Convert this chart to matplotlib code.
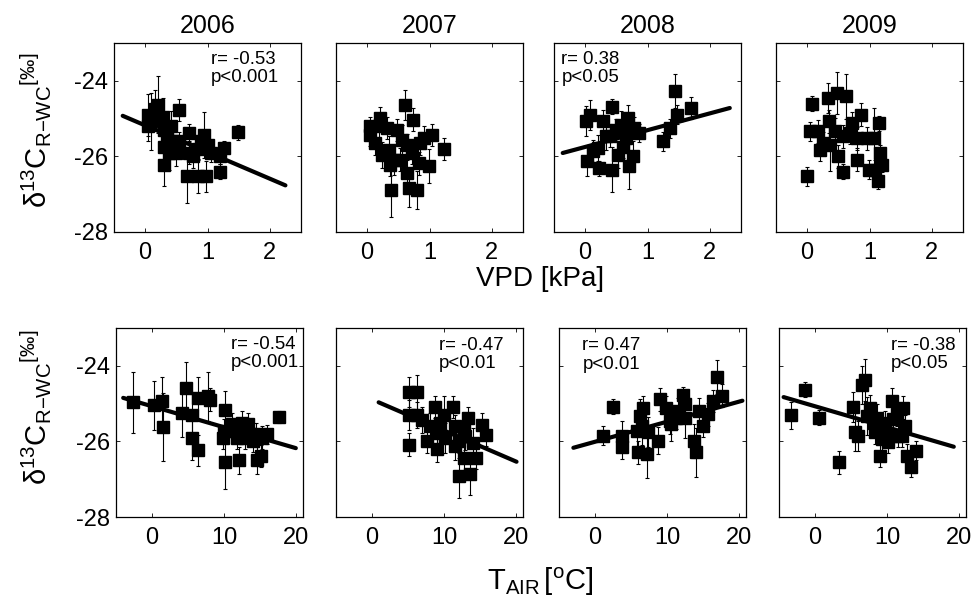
import matplotlib
matplotlib.use("Agg")
import matplotlib.pyplot as plt
import numpy as np

plt.rcParams['font.family'] = ['Liberation Sans', 'DejaVu Sans']
plt.rcParams['mathtext.fontset'] = 'custom'
plt.rcParams['mathtext.rm'] = 'Liberation Sans'
plt.rcParams['mathtext.it'] = 'Liberation Sans:italic'
plt.rcParams['axes.unicode_minus'] = False

years = ['2006', '2007', '2008', '2009']

# ---- VPD panels (top row) ----
vpd06_x = [0.05, 0.05, 0.10, 0.20, 0.15, 0.28, 0.30, 0.35, 0.31, 0.31, 0.38, 0.42, 0.45, 0.50, 0.55, 0.55,
           0.70, 0.70, 0.76, 0.67, 0.84, 0.98, 0.85, 0.90, 0.95, 1.00, 1.05, 1.20, 1.20, 1.26, 1.49]
vpd06_y = [-24.90, -25.20, -25.07, -24.63, -24.75, -24.95, -25.30, -25.50, -25.75, -26.22, -25.90, -25.20,
           -25.60, -25.90, -24.77, -25.60, -25.38, -25.90, -26.00, -26.53, -26.53, -26.53, -25.80, -25.60,
           -25.43, -25.70, -25.90, -26.00, -26.41, -25.78, -25.36]
vpd06_e = [0.55, 0.40, 0.75, 0.75, 0.50, 0.50, 0.40, 0.35, 0.45, 0.55, 0.45, 0.40, 0.40, 0.35, 0.30, 0.25,
           0.25, 0.30, 0.30, 0.70, 0.45, 0.40, 0.30, 0.30, 0.60, 0.30, 0.25, 0.20, 0.20, 0.20, 0.20]

vpd07_x = [0.05, 0.05, 0.13, 0.19, 0.21, 0.24, 0.32, 0.35, 0.37, 0.39, 0.43, 0.48, 0.53, 0.56, 0.60, 0.64,
           0.64, 0.67, 0.72, 0.74, 0.80, 0.83, 0.85, 0.91, 0.99, 1.04, 1.24]
vpd07_y = [-25.20, -25.43, -25.65, -25.20, -24.99, -25.96, -25.25, -25.82, -26.22, -26.90, -26.09, -25.30,
           -26.09, -25.56, -24.65, -25.70, -26.44, -26.84, -25.90, -25.03, -26.88, -26.18, -25.65, -25.50,
           -26.26, -25.43, -25.80]
vpd07_e = [0.25, 0.30, 0.30, 0.35, 0.30, 0.35, 0.30, 0.35, 0.30, 0.70, 0.40, 0.30, 0.30, 0.40, 0.40, 0.30,
           0.35, 0.50, 0.30, 0.30, 0.50, 0.30, 0.30, 0.30, 0.45, 0.30, 0.30]

vpd08_x = [0.02, 0.07, 0.03, 0.12, 0.20, 0.22, 0.28, 0.34, 0.40, 0.43, 0.43, 0.50, 0.53, 0.58, 0.61, 0.66,
           0.69, 0.71, 0.77, 0.79, 0.87, 1.25, 1.36, 1.44, 1.47, 1.69]
vpd08_y = [-25.07, -24.90, -26.13, -25.86, -25.78, -26.31, -25.07, -25.47, -25.45, -24.68, -26.35, -25.30,
           -25.96, -25.16, -25.74, -25.50, -24.99, -26.26, -25.99, -25.25, -25.38, -25.60, -25.25, -24.26,
           -24.90, -24.72]
vpd08_e = [0.40, 0.40, 0.40, 0.30, 0.35, 0.20, 0.30, 0.35, 0.30, 0.20, 0.60, 0.30, 0.35, 0.35, 0.30, 0.30,
           0.35, 0.60, 0.40, 0.30, 0.25, 0.25, 0.25, 0.45, 0.25, 0.30]

vpd09_x = [0.00, 0.04, 0.08, 0.18, 0.20, 0.26, 0.33, 0.35, 0.37, 0.45, 0.48, 0.50, 0.58, 0.58, 0.62, 0.69,
           0.72, 0.80, 0.80, 0.87, 0.96, 0.99, 1.07, 1.09, 1.13, 1.16, 1.17, 1.20]
vpd09_y = [-26.53, -25.34, -24.61, -25.34, -25.82, -25.65, -24.46, -25.07, -25.69, -25.34, -24.32, -26.00,
           -25.47, -26.40, -24.41, -25.38, -25.12, -25.52, -26.09, -24.90, -25.52, -26.35, -25.52, -26.35,
           -26.66, -25.12, -25.91, -26.22]
vpd09_e = [0.25, 0.25, 0.20, 0.30, 0.30, 0.30, 0.40, 0.30, 0.70, 0.35, 0.55, 0.30, 0.30, 0.20, 0.60, 0.30,
           0.30, 0.30, 0.30, 0.30, 0.30, 0.25, 0.80, 0.25, 0.20, 0.20, 0.20, 0.20]

# ---- Air temperature panels (bottom row) ----
t06_x = [-2.6, 0.24, 1.4, 1.6, 4.2, 4.7, 5.6, 5.6, 6.35, 6.35, 7.8, 8.1, 10.2, 10.0, 9.9, 10.1, 11.1, 11.5,
         11.8, 12.1, 12.5, 12.9, 13.4, 13.6, 14.1, 14.4, 14.6, 15.1, 15.3, 16.0, 17.6]
t06_y = [-24.97, -25.05, -24.94, -25.63, -25.24, -24.59, -25.29, -25.90, -26.24, -24.85, -24.81, -24.90,
         -25.16, -25.72, -25.90, -26.55, -25.55, -25.72, -25.90, -26.50, -25.50, -25.90, -25.55, -25.81,
         -25.98, -25.81, -26.50, -26.39, -25.90, -25.81, -25.35]
t06_e = [0.80, 0.65, 0.65, 0.90, 0.65, 0.70, 0.55, 0.60, 0.40, 0.55, 0.65, 0.30, 0.50, 0.30, 0.30, 0.70,
         0.30, 0.30, 0.30, 0.35, 0.30, 0.30, 0.30, 0.30, 0.30, 0.30, 0.35, 0.30, 0.30, 0.25, 0.15]

t07_x = [5.1, 6.2, 5.1, 5.1, 6.2, 7.0, 7.7, 8.1, 8.7, 9.0, 9.1, 9.5, 10.0, 10.2, 11.3, 11.5, 11.6, 12.1,
         12.1, 12.8, 12.8, 13.0, 13.3, 13.7, 14.0, 14.4, 15.3, 15.8]
t07_y = [-24.70, -24.70, -25.30, -26.09, -25.30, -25.43, -26.00, -25.60, -25.09, -26.20, -25.78, -25.52,
         -25.30, -25.90, -25.09, -26.13, -25.60, -26.00, -26.91, -25.65, -26.43, -25.87, -25.39, -26.87,
         -26.04, -26.43, -25.56, -25.82]
t07_e = [0.40, 0.45, 0.40, 0.30, 0.35, 0.35, 0.30, 0.35, 0.30, 0.35, 0.40, 0.35, 0.50, 0.40, 0.30, 0.35,
         0.30, 0.45, 0.60, 0.30, 0.40, 0.35, 0.30, 0.55, 0.40, 0.30, 0.30, 0.30]

t08_x = [1.16, 2.5, 3.7, 3.7, 5.8, 6.0, 6.25, 6.5, 6.7, 7.2, 7.4, 8.8, 9.0, 9.9, 10.4, 10.6, 11.3, 11.6,
         12.3, 12.5, 12.5, 13.75, 14.0, 14.4, 15.0, 15.7, 16.4, 17.0, 17.6]
t08_y = [-25.85, -25.08, -25.85, -26.16, -25.72, -26.29, -25.33, -25.59, -25.11, -26.33, -25.76, -25.98,
         -24.89, -25.11, -25.46, -25.55, -25.37, -25.20, -24.76, -25.02, -25.37, -26.00, -26.29, -25.20,
         -25.59, -25.28, -24.93, -24.30, -24.79]
t08_e = [0.25, 0.20, 0.40, 0.30, 0.40, 0.30, 0.45, 0.50, 0.30, 0.65, 0.40, 0.35, 0.30, 0.30, 0.35, 0.45,
         0.30, 0.35, 0.20, 0.30, 0.55, 0.45, 0.65, 0.35, 0.30, 0.30, 0.30, 0.45, 0.30]

t09_x = [-3.4, -1.4, 0.5, 3.4, 5.3, 5.55, 6.0, 6.55, 7.0, 7.25, 7.7, 8.2, 8.4, 8.6, 9.1, 9.3, 9.3, 9.8,
         10.1, 10.5, 10.7, 10.9, 11.4, 11.6, 12.1, 12.3, 12.5, 12.75, 13.4, 14.1]
t09_y = [-25.31, -24.63, -25.37, -26.55, -25.09, -25.76, -25.85, -24.50, -24.38, -25.33, -25.11, -25.50,
         -25.76, -25.37, -26.38, -25.67, -25.94, -25.50, -26.02, -25.85, -24.93, -25.41, -25.28, -25.85,
         -25.85, -25.11, -25.59, -26.38, -26.69, -26.25]
t09_e = [0.35, 0.20, 0.20, 0.30, 0.40, 0.50, 0.40, 0.50, 0.55, 0.50, 0.35, 0.35, 0.30, 0.35, 0.30, 0.30,
         0.30, 0.30, 0.30, 0.30, 0.35, 0.35, 0.30, 0.30, 0.30, 0.30, 0.30, 0.30, 0.25, 0.25]

# regression lines: (x_start, x_end, intercept, slope) or None
vpd_fit = [(-0.36, 2.25, -25.18, -0.705), None, (-0.36, 2.32, -25.75, 0.444), None]
t_fit = [(-4.0, 20.0, -25.07, -0.0554), (0.93, 20.1, -24.89, -0.082),
         (-3.0, 20.5, -26.01, 0.053), (-4.36, 19.3, -25.07, -0.0555)]

vpd_stats = ['r= -0.53\np<0.001', None, 'r= 0.38\np<0.05', None]
t_stats = ['r= -0.54\np<0.001', 'r= -0.47\np<0.01', 'r= 0.47\np<0.01', 'r= -0.38\np<0.05']
vpd_stat_pos = [(0.52, 0.96), None, (0.04, 0.96), None]
t_stat_pos = [(0.615, 0.96), (0.55, 0.955), (0.125, 0.95), (0.60, 0.955)]

top_data = [(vpd06_x, vpd06_y, vpd06_e), (vpd07_x, vpd07_y, vpd07_e),
            (vpd08_x, vpd08_y, vpd08_e), (vpd09_x, vpd09_y, vpd09_e)]
bot_data = [(t06_x, t06_y, t06_e), (t07_x, t07_y, t07_e),
            (t08_x, t08_y, t08_e), (t09_x, t09_y, t09_e)]

W, H = 975, 608
fig = plt.figure(figsize=(W / 100, H / 100), dpi=100)

top_left = [114, 336, 554, 776]
bot_left = [116, 336, 559, 779]
aw, ah = 187, 189


def make_ax(left_px, top_px):
    return fig.add_axes([left_px / W, 1 - (top_px + ah) / H, aw / W, ah / H])


def style(ax, show_y):
    ax.tick_params(direction='in', top=True, right=True, length=3, width=0.6,
                   labelsize=17, colors='black')
    ax.tick_params(axis='x', pad=7)
    ax.tick_params(axis='y', pad=4)
    if not show_y:
        ax.tick_params(labelleft=False)
    for s in ax.spines.values():
        s.set_linewidth(0.9)


def draw(ax, data, fit, stat, pos, xlim, xticks):
    x, y, e = data
    if fit is not None:
        x0, x1, b, m = fit
        xs = np.array([x0, x1])
        ax.plot(xs, b + m * xs, color='black', lw=3.0, solid_capstyle='round', zorder=2)
    ax.errorbar(x, y, yerr=e, fmt='s', color='black', ms=8.4, mec='black', mfc='black',
                ecolor='black', elinewidth=0.8, capsize=1.2, capthick=0.8, zorder=3)
    ax.set_xlim(*xlim)
    ax.set_ylim(-28, -23)
    ax.set_xticks(xticks)
    ax.set_yticks([-28, -26, -24])
    if stat is not None:
        ax.text(pos[0], pos[1], stat, transform=ax.transAxes, ha='left', va='top',
                fontsize=13.4, linespacing=1.1)


for i in range(4):
    ax = make_ax(top_left[i], 43)
    draw(ax, top_data[i], vpd_fit[i], vpd_stats[i], vpd_stat_pos[i], (-0.5, 2.5), [0, 1, 2])
    style(ax, i == 0)
    ax.set_title(years[i], fontsize=18, pad=7)

for i in range(4):
    ax = make_ax(bot_left[i], 328)
    draw(ax, bot_data[i], t_fit[i], t_stats[i], t_stat_pos[i], (-5, 21), [0, 10, 20])
    style(ax, i == 0)

ylab = r'$\mathrm{\delta}^{13}\mathrm{C}_{\mathrm{R{-}WC}}{}^{[\mathrm{‰}]}$'
fig.text(36 / W, 1 - 130 / H, ylab, rotation=90, ha='center', va='center', fontsize=21)
fig.text(36 / W, 1 - 407 / H, ylab, rotation=90, ha='center', va='center', fontsize=21)

fig.text(540 / W, 1 - 279 / H, 'VPD [kPa]', ha='center', va='center', fontsize=20)
fig.text(540 / W, 1 - 582 / H, r'$\mathrm{T}_{\mathrm{AIR}}\,[^{\mathrm{o}}\mathrm{C}]$',
         ha='center', va='center', fontsize=21)

fig.savefig('out.png', dpi=100)
